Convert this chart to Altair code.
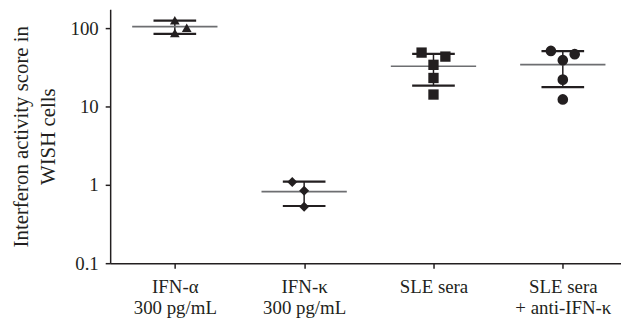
import json
import numpy as np
import pandas as pd
import altair as alt

# ---- data ----
groups = ["IFN-α\n300 pg/mL", "IFN-κ\n300 pg/mL", "SLE sera", "SLE sera\n+ anti-IFN-κ"]
shapes = ["triangle-up", "diamond", "square", "circle"]
ifn_alpha = [126, 101, 86.5]
ifn_kappa = [1.09, 0.84, 0.527]
sle_sera = [48.7, 43.3, 34.0, 23.1, 14.2]
sle_anti = [51.2, 46.5, 39.0, 22.0, 12.3]
# side of the column on which each point sits (-1 left, 0 centre, 1 right)
side_alpha = [0, 1, 0]
side_kappa = [-1, 0, 0]
side_sle = [-1, 1, 0, 0, 0]
side_anti = [-1, 1, 0, 0, 0]
y_ticks = [0.1, 1, 10, 100]

# ---- styling ----
INK = "#231f20"
FONT = "Liberation Serif"
FS = 19
JIT = 0.092

series = [ifn_alpha, ifn_kappa, sle_sera, sle_anti]
sides = [side_alpha, side_kappa, side_sle, side_anti]

rows = []
summ = []
for gi, (vals, sd) in enumerate(zip(series, sides)):
    for v, s in zip(vals, sd):
        rows.append({"grp": groups[gi], "x": gi + s * JIT, "value": v})
    arr = np.array(vals, dtype=float)
    m = arr.mean()
    s_ = arr.std(ddof=1)
    summ.append({"grp": groups[gi], "x": gi, "mean": m, "lo": m - s_, "hi": m + s_})
pts = pd.DataFrame(rows)
sm = pd.DataFrame(summ)

label_expr = json.dumps([g.split("\n") for g in groups], ensure_ascii=False) + "[datum.value]"

xaxis = alt.Axis(values=[0, 1, 2, 3], labelExpr=label_expr, title=None, grid=False,
                 tickSize=5, tickWidth=1.5, tickColor=INK, domainColor=INK, domainWidth=1.5,
                 labelFont=FONT, labelFontSize=FS, labelColor=INK, labelPadding=10,
                 labelLineHeight=21, labelBaseline="top", labelAngle=0)
yaxis = alt.Axis(values=y_ticks, format="~g", title=["Interferon activity score in", "WISH cells"],
                 grid=False, tickSize=5, tickWidth=1.5, tickColor=INK, domainColor=INK,
                 domainWidth=1.5, labelFont=FONT, labelFontSize=FS, labelColor=INK,
                 labelPadding=7, titleFont=FONT, titleFontSize=21, titleFontWeight="normal",
                 titleColor=INK, titleLineHeight=27, titlePadding=12)
xscale = alt.Scale(domain=[-0.5, 3.45], nice=False, zero=False)
yscale = alt.Scale(type="log", domain=[0.1, 174], nice=False)


def X(f):
    return alt.X(f"{f}:Q", scale=xscale, axis=xaxis)


def Y(f):
    return alt.Y(f"{f}:Q", scale=yscale, axis=yaxis)


vline = alt.Chart(sm).mark_rule(color=INK, strokeWidth=1.5).encode(
    x=X("x"), y=Y("lo"), y2="hi")
mean_t = alt.Chart(sm).mark_tick(orient="horizontal", size=86, thickness=1.6,
                                 color="#6d6e71", opacity=1).encode(x=X("x"), y=Y("mean"))
lo_t = alt.Chart(sm).mark_tick(orient="horizontal", size=43, thickness=2.2,
                               color=INK, opacity=1).encode(x=X("x"), y=Y("lo"))
hi_t = alt.Chart(sm).mark_tick(orient="horizontal", size=43, thickness=2.2,
                               color=INK, opacity=1).encode(x=X("x"), y=Y("hi"))
points = alt.Chart(pts).mark_point(filled=True, opacity=1, color=INK).encode(
    x=X("x"), y=Y("value"),
    shape=alt.Shape("grp:N", scale=alt.Scale(domain=groups, range=shapes), legend=None),
    size=alt.Size("grp:N", scale=alt.Scale(domain=groups, range=[95, 115, 100, 95]), legend=None),
)

chart = alt.layer(vline, mean_t, lo_t, hi_t, points).properties(
    width=515, height=256,
    padding={"left": 2, "top": 0, "right": 0, "bottom": 0},
    background="white",
).configure_view(stroke=None)

chart.save("out.html", embed_options={"renderer": "svg", "actions": False})
